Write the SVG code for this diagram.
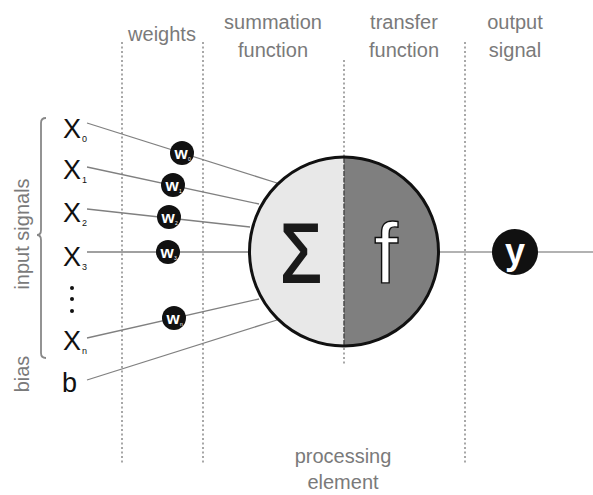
<svg xmlns="http://www.w3.org/2000/svg" width="593" height="495" viewBox="0 0 593 495">
<style>
.lbl{font-family:"Liberation Sans",Arial,sans-serif;font-size:20px;fill:#7a7a7a;text-anchor:middle}
.inp{font-family:"Liberation Sans",Arial,sans-serif;font-size:27px;fill:#111}
.sub{font-family:"Liberation Sans",Arial,sans-serif;font-size:9px;fill:#111}
.guide{stroke:#8a8a8a;stroke-width:1.5;stroke-dasharray:2 2.5;fill:none}
.wire{stroke:#808080;stroke-width:1.3;fill:none}
.wc{fill:#111}
.wt{font-family:"Liberation Sans",Arial,sans-serif;font-size:17px;font-weight:bold;fill:#fff;text-anchor:middle}
.ws{font-family:"Liberation Sans",Arial,sans-serif;font-size:5px;fill:#fff}
</style>
<rect width="593" height="495" fill="#fff"/>
<g id="guides">
<line class="guide" x1="122" y1="42" x2="122" y2="463"/>
<line class="guide" x1="203" y1="42" x2="203" y2="463"/>
<line class="guide" x1="344" y1="60" x2="344" y2="156"/>
<line class="guide" x1="344" y1="348" x2="344" y2="366"/>
<line class="guide" x1="465" y1="42" x2="465" y2="463"/>
</g>
<g id="labels">
<text class="lbl" x="162" y="41">weights</text>
<text class="lbl" x="273" y="29">summation</text>
<text class="lbl" x="273" y="57">function</text>
<text class="lbl" x="404" y="29">transfer</text>
<text class="lbl" x="404" y="57">function</text>
<text class="lbl" x="515" y="29">output</text>
<text class="lbl" x="515" y="57">signal</text>
<text class="lbl" x="343" y="463">processing</text>
<text class="lbl" x="343" y="489">element</text>
<text class="lbl" transform="translate(29,234) rotate(-90)">input signals</text>
<text class="lbl" transform="translate(29,374) rotate(-90)">bias</text>
</g>
<path id="brace" d="M46,118 Q41,118 41,123 L41,230 Q41,235 37,235 Q41,235 41,240 L41,353 Q41,358 46,358" fill="none" stroke="#888" stroke-width="1.8"/>
<g id="connectors">
<line class="wire" x1="87" y1="123" x2="277" y2="183"/>
<line class="wire" x1="87" y1="167" x2="259" y2="204"/>
<line class="wire" x1="87" y1="209" x2="250" y2="227"/>
<line class="wire" x1="87" y1="252" x2="250" y2="252"/>
<line class="wire" x1="87" y1="338" x2="259" y2="299"/>
<line class="wire" x1="87" y1="380" x2="277" y2="320"/>
<line x1="438" y1="252" x2="593" y2="252" stroke="#999" stroke-width="1.6"/>
</g>
<g id="inputs">
<text class="inp" x="63" y="138">X</text><text class="sub" x="82" y="142">0</text>
<text class="inp" x="63" y="179">X</text><text class="sub" x="82" y="183">1</text>
<text class="inp" x="63" y="222">X</text><text class="sub" x="82" y="226">2</text>
<text class="inp" x="63" y="266">X</text><text class="sub" x="82" y="270">3</text>
<circle cx="72" cy="288" r="2" fill="#111"/>
<circle cx="72" cy="299" r="2" fill="#111"/>
<circle cx="72" cy="311" r="2" fill="#111"/>
<text class="inp" x="63" y="350">X</text><text class="sub" x="82" y="354">n</text>
<text class="inp" x="62" y="392">b</text>
</g>
<g id="w0"><circle class="wc" cx="182" cy="153" r="12"/><text class="wt" x="181" y="159">w</text><text class="ws" x="188" y="161">0</text></g>
<g id="w1"><circle class="wc" cx="173" cy="185" r="12"/><text class="wt" x="172" y="191">w</text><text class="ws" x="179" y="193">1</text></g>
<g id="w2"><circle class="wc" cx="169" cy="217" r="12"/><text class="wt" x="168" y="223">w</text><text class="ws" x="175" y="225">2</text></g>
<g id="w3"><circle class="wc" cx="168" cy="252" r="12"/><text class="wt" x="167" y="258">w</text><text class="ws" x="174" y="260">3</text></g>
<g id="wn"><circle class="wc" cx="174" cy="318" r="12"/><text class="wt" x="173" y="324">w</text><text class="ws" x="180" y="326">n</text></g>
<g id="neuron">
<path d="M344,157 A94.5,94.5 0 0 0 344,346 Z" fill="#e8e8e8"/>
<path d="M344,157 A94.5,94.5 0 0 1 344,346 Z" fill="#7f7f7f"/>
<line x1="344" y1="158" x2="344" y2="345" stroke="#444" stroke-width="1.4" stroke-dasharray="5 1.5"/>
<circle cx="344" cy="251.5" r="94.5" fill="none" stroke="#111" stroke-width="3"/>
<text x="301" y="282" transform="translate(301,0) scale(0.8,1) translate(-301,0)" font-family="'Liberation Sans',Arial,sans-serif" font-size="84" fill="#1a1a1a" stroke="#1a1a1a" stroke-width="2" text-anchor="middle">Σ</text>
<text x="386" y="283" font-family="'Liberation Sans',Arial,sans-serif" font-size="86" fill="#fff" stroke="#111" stroke-width="1.4" text-anchor="middle">f</text>
</g>
<g id="output"><circle cx="515" cy="252" r="23" fill="#111"/><text x="515" y="264" font-family="'Liberation Sans',Arial,sans-serif" font-size="36" font-weight="bold" fill="#fff" text-anchor="middle">y</text></g>
</svg>
